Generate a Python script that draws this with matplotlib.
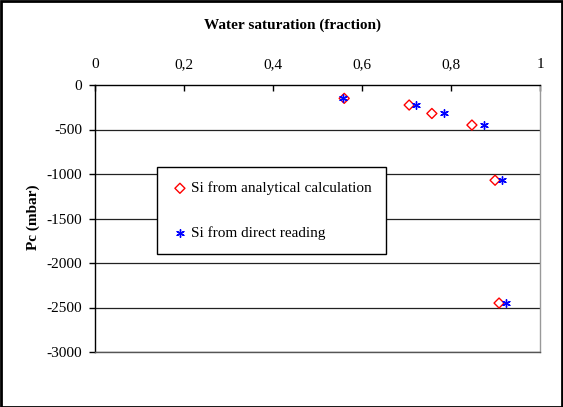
import matplotlib
matplotlib.use("Agg")
import matplotlib.pyplot as plt
from matplotlib.patches import Rectangle

plt.rcParams['font.family'] = ['Liberation Serif', 'DejaVu Serif']

# Capillary pressure vs water saturation
pc = [-150, -225, -320, -450, -1070, -2450]
si_analytical = [0.560, 0.706, 0.757, 0.847, 0.899, 0.908]
si_direct = [0.558, 0.721, 0.784, 0.874, 0.915, 0.924]

x_ticks = [0, 0.2, 0.4, 0.6, 0.8, 1]
x_tick_labels = ["0", "0,2", "0,4", "0,6", "0,8", "1"]
y_ticks = [0, -500, -1000, -1500, -2000, -2500, -3000]

W, H = 563, 407
FS = 11
fig = plt.figure(figsize=(W / 100, H / 100), dpi=100)
ax = fig.add_axes([95 / W, 1 - 352 / H, 445 / W, (352 - 85) / H])

ax.set_xlim(0, 1)
ax.set_ylim(-3000, 0)

for y in y_ticks[1:]:
    ax.axhline(y, color='#222222', lw=0.9, zorder=1)

ax.scatter(si_analytical, pc, marker='D', s=26, facecolors='none',
           edgecolors='#ff0000', linewidths=1.0, zorder=3,
           label='Si from analytical calculation')
ax.scatter(si_direct, pc, marker=(6, 2, 0), s=30, color='#0000ff',
           linewidths=1.0, zorder=4, label='Si from direct reading')

ax.xaxis.tick_top()
ax.set_xticks(x_ticks)
ax.set_xticklabels(x_tick_labels)
ax.set_yticks(y_ticks)
ax.set_yticklabels([str(v) for v in y_ticks])
ax.tick_params(axis='x', direction='in', length=4, width=1, pad=10,
               labelsize=FS, top=True, bottom=False)
ax.tick_params(axis='y', direction='out', length=4, width=1, pad=5,
               labelsize=FS)

ax.spines['left'].set_color('black')
ax.spines['top'].set_color('black')
ax.spines['right'].set_color('#999999')
ax.spines['bottom'].set_color('#555555')
for s in ax.spines.values():
    s.set_linewidth(1)

fig.text(293 / W, 1 - 25 / H, "Water saturation (fraction)", ha='center',
         va='center', fontsize=FS, fontweight='bold')
fig.text(33 / W, 1 - 217 / H, "Pc (mbar)", ha='center', va='center',
         rotation=90, fontsize=FS, fontweight='bold')

leg = ax.legend(loc='upper left',
                bbox_to_anchor=((157 - 95) / 445, (352 - 167) / (352 - 85)),
                fontsize=FS, frameon=True, fancybox=False, framealpha=1,
                edgecolor='black', borderpad=0.95, labelspacing=2.0,
                handletextpad=0.15, handlelength=1.1, borderaxespad=0)
leg.get_frame().set_linewidth(1)

fig.patches.append(Rectangle((0.5 / W, 0.5 / H), 1 - 1.5 / W, 1 - 1.5 / H,
                             transform=fig.transFigure, fill=False,
                             edgecolor='black', linewidth=2))

fig.savefig("out.png", dpi=100)
